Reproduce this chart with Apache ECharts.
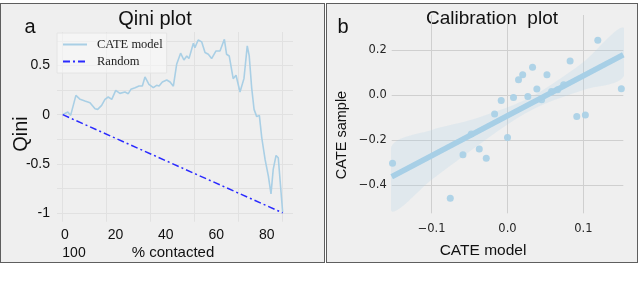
<!DOCTYPE html>
<html><head><meta charset="utf-8">
<script src="https://cdn.jsdelivr.net/npm/echarts@6/dist/echarts.min.js"></script>
<style>
html,body{margin:0;padding:0;background:#fff;width:640px;height:291px;overflow:hidden}
.panel{position:absolute;background:#efefef;border:1.5px solid #5e5e5e;box-sizing:border-box}
#chart{position:absolute;left:0;top:0;width:640px;height:291px}
</style></head><body>
<div class="panel" style="left:0;top:3px;width:325px;height:260px"></div>
<div class="panel" style="left:326px;top:3px;width:312px;height:260px"></div>
<div id="chart"></div>
<script>
// ---- Panel a: Qini plot ----
const qiniX = [0, 2.3, 3.6, 6.0, 7.9, 10.1, 12.4, 14.7, 15.9, 17.7, 19.2, 20.7, 22.3, 24.1, 26.0, 28.3, 29.8, 31.0, 32.9, 34.7, 36.2, 37.4, 39.2, 41.2, 42.7, 43.8, 45.3, 47.3, 48.8, 50.3, 51.8, 53.6, 55.1, 56.4, 57.4, 59.4, 60.1, 61.6, 63.2, 64.7, 66.2, 67.7, 69.7, 71.5, 73.5, 74.5, 75.7, 77.5, 78.8, 80.6, 82.4, 83.9, 84.8, 85.9, 87.0, 88.2, 89.4, 90.5, 92.0, 93.5, 94.7, 95.7, 97.0, 98.0, 100];
const qiniCATE = [0, 0.027, -0.007, 0.197, 0.156, 0.139, 0.122, 0.061, 0.054, 0.095, 0.156, 0.18, 0.156, 0.248, 0.217, 0.231, 0.214, 0.258, 0.275, 0.292, 0.292, 0.384, 0.309, 0.275, 0.299, 0.292, 0.333, 0.353, 0.333, 0.29, 0.513, 0.626, 0.557, 0.598, 0.571, 0.727, 0.683, 0.761, 0.741, 0.633, 0.615, 0.571, 0.649, 0.649, 0.768, 0.615, 0.598, 0.367, 0.401, 0.231, 0.367, 0.70, 0.598, 0.275, 0.054, -0.02, -0.007, -0.235, -0.456, -0.626, -0.806, -0.558, -0.415, -0.439, -0.994];
const randomX = [0, 100];
const randomY = [0, -1];
const qiniXTickLabels = ['0', '20', '40', '60', '80'];
const qiniXExtraLabel = '100';
const qiniGridX = [0, 20, 40, 60, 80, 100];
const qiniGridY = [-1, -0.75, -0.5, -0.25, 0, 0.25, 0.5, 0.75];
const qiniYLabels = [-1, -0.5, 0, 0.5];

// ---- Panel b: Calibration plot ----
const calX = [-0.1515, -0.0754, -0.0587, -0.0478, -0.0372, -0.028, -0.017, -0.0083, 0.0, 0.0079, 0.0145, 0.020, 0.0268, 0.033, 0.0387, 0.045, 0.052, 0.058, 0.066, 0.074, 0.0825, 0.0913, 0.1026, 0.119, 0.150];
const calY = [-0.302, -0.458, -0.265, -0.172, -0.239, -0.28, -0.084, -0.024, -0.188, -0.011, 0.068, 0.09, -0.006, 0.124, 0.027, -0.021, 0.09, 0.016, 0.024, 0.046, 0.152, -0.095, -0.088, 0.243, 0.028];
const regX = [-0.1526, 0.1526];
const regY = [-0.362, 0.179];
const bandX = [-0.1526, -0.1, -0.05, 0, 0.03, 0.06, 0.1, 0.1526];
const bandLo = [-0.515, -0.376, -0.25, -0.13, -0.069, -0.024, 0.023, 0.08];
const bandHi = [-0.226, -0.155, -0.112, -0.054, -0.009, 0.052, 0.147, 0.30];
const calXTicks = [-0.1, 0, 0.1];
const calYTicks = [-0.4, -0.2, 0, 0.2];

const SANS = 'Liberation Sans';
const zip = (a, b) => a.map((v, i) => [v, b[i]]);
const fmtMinus = v => (v < 0 ? '\u2212' : '') + Math.abs(v).toFixed(1);

const chart = echarts.init(document.getElementById('chart'), null, {renderer: 'canvas'});
chart.setOption({
  animation: false,
  grid: [
    {left: 57, top: 32, width: 236, height: 189.7},
    {left: 65, top: 200, width: 201.7, height: 21.7},
    {left: 391.7, top: 15, width: 231.6, height: 198.3}
  ],
  xAxis: [
    {gridIndex: 0, type: 'value', min: -2.6, max: 104.7,
     axisLine: {show: false}, axisTick: {show: false, customValues: qiniGridX},
     axisLabel: {show: false},
     splitLine: {show: true, lineStyle: {color: '#e1e1e1', width: 1}}},
    {gridIndex: 1, type: 'category', data: qiniXTickLabels, boundaryGap: false,
     axisLine: {show: false}, axisTick: {show: false}, splitLine: {show: false},
     axisLabel: {interval: 0, margin: 6, fontFamily: SANS, fontSize: 14, color: '#111'}},
    {gridIndex: 2, type: 'value', min: -0.1526, max: 0.1526,
     axisLine: {show: false}, axisTick: {show: false, customValues: calXTicks},
     axisLabel: {customValues: calXTicks, formatter: fmtMinus, margin: 10, fontFamily: 'DejaVu Sans', fontSize: 11.5, color: '#262626'},
     splitLine: {show: true, lineStyle: {color: '#cfcfcf', width: 1}}}
  ],
  yAxis: [
    {gridIndex: 0, type: 'value', min: -1.09, max: 0.842,
     axisLine: {show: false}, axisTick: {show: false, customValues: qiniGridY},
     axisLabel: {customValues: qiniYLabels, margin: 7, fontFamily: SANS, fontSize: 14, color: '#111'},
     splitLine: {show: true, lineStyle: {color: '#e1e1e1', width: 1}}},
    {gridIndex: 1, type: 'value', show: false},
    {gridIndex: 2, type: 'value', min: -0.5244, max: 0.3556,
     axisLine: {show: false}, axisTick: {show: false, customValues: calYTicks},
     axisLabel: {customValues: calYTicks, formatter: fmtMinus, margin: 5, fontFamily: 'DejaVu Sans', fontSize: 11.5, color: '#262626'},
     splitLine: {show: true, lineStyle: {color: '#cfcfcf', width: 1}}}
  ],
  legend: {
    left: 57, top: 33, orient: 'vertical', padding: [5, 4, 5, 5],
    itemWidth: 24, itemHeight: 14, itemGap: 4,
    itemStyle: {opacity: 0},
    backgroundColor: 'rgba(248,248,248,0.6)', borderColor: '#e4e4e4', borderWidth: 1,
    textStyle: {fontFamily: 'Liberation Serif', fontSize: 12.5, color: '#222', padding: [0, 0, 0, 5]},
    data: ['CATE model', 'Random']
  },
  series: [
    {name: 'CATE model', type: 'line', xAxisIndex: 0, yAxisIndex: 0, data: zip(qiniX, qiniCATE),
     symbol: 'none', lineStyle: {color: '#a9cfe5', width: 1.6}, itemStyle: {color: '#a9cfe5'}, z: 3},
    {name: 'Random', type: 'line', xAxisIndex: 0, yAxisIndex: 0, data: zip(randomX, randomY),
     symbol: 'none', lineStyle: {color: '#2a2aff', width: 1.5, type: [7, 3, 2, 3]}, itemStyle: {color: '#2a2aff'}, z: 4},
    {type: 'custom', xAxisIndex: 2, yAxisIndex: 2, data: [[0, 0]], clip: true, z: 1,
     renderItem: function (params, api) {
       const pts = [];
       bandX.forEach((x, i) => pts.push(api.coord([x, bandHi[i]])));
       for (let i = bandX.length - 1; i >= 0; i--) pts.push(api.coord([bandX[i], bandLo[i]]));
       return {type: 'polygon', shape: {points: pts, smooth: 0.3}, style: {fill: 'rgba(175,210,232,0.22)'}};
     }},
    {type: 'scatter', xAxisIndex: 2, yAxisIndex: 2, data: zip(calX, calY), symbolSize: 7,
     itemStyle: {color: '#a7cfe6', opacity: 0.9}, z: 2, clip: false},
    {type: 'line', xAxisIndex: 2, yAxisIndex: 2, data: zip(regX, regY), symbol: 'none',
     lineStyle: {color: '#a7cfe6', width: 5.5}, z: 3}
  ],
  graphic: [
    {type: 'text', x: 155, y: 19, style: {text: 'Qini plot', font: '20px "Liberation Sans"', fill: '#111', textAlign: 'center', textVerticalAlign: 'middle'}},
    {type: 'text', x: 30, y: 27, style: {text: 'a', font: '20px "Liberation Sans"', fill: '#111', textAlign: 'center', textVerticalAlign: 'middle'}},
    {type: 'text', x: 21, y: 134, rotation: Math.PI / 2, style: {text: 'Qini', font: '20px "Liberation Sans"', fill: '#111', textAlign: 'center', textVerticalAlign: 'middle'}},
    {type: 'text', x: 173, y: 253, style: {text: '% contacted', font: '15px "Liberation Sans"', fill: '#111', textAlign: 'center', textVerticalAlign: 'middle'}},
    {type: 'text', x: 74, y: 253, style: {text: qiniXExtraLabel, font: '14px "Liberation Sans"', fill: '#111', textAlign: 'center', textVerticalAlign: 'middle'}},
    {type: 'text', x: 492, y: 18.5, style: {text: 'Calibration  plot', font: '19px "Liberation Sans"', fill: '#111', textAlign: 'center', textVerticalAlign: 'middle'}},
    {type: 'text', x: 343, y: 27, style: {text: 'b', font: '20px "Liberation Sans"', fill: '#111', textAlign: 'center', textVerticalAlign: 'middle'}},
    {type: 'text', x: 342, y: 135, rotation: Math.PI / 2, style: {text: 'CATE sample', font: '14.5px "Liberation Sans"', fill: '#111', textAlign: 'center', textVerticalAlign: 'middle'}},
    {type: 'text', x: 483, y: 251, style: {text: 'CATE model', font: '15.5px "Liberation Sans"', fill: '#111', textAlign: 'center', textVerticalAlign: 'middle'}}
  ]
});
</script>
</body></html>
